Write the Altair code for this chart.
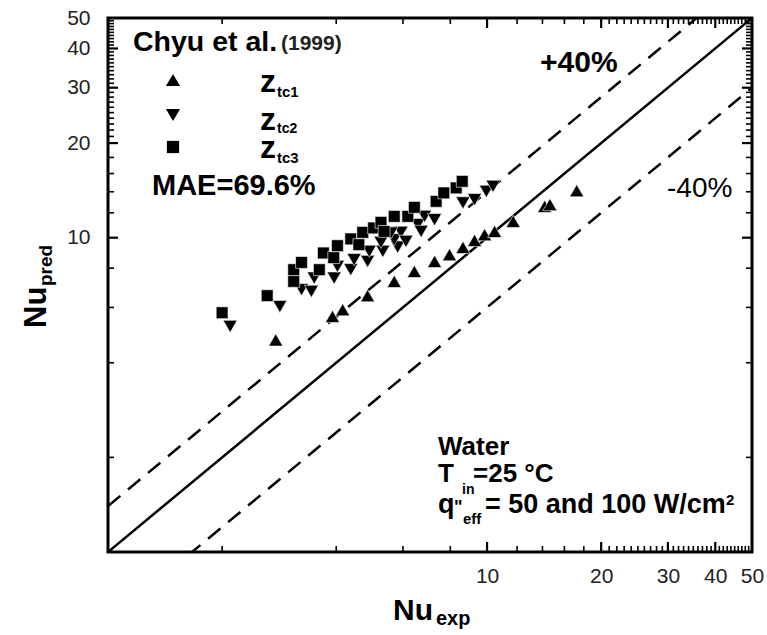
import altair as alt
import pandas as pd

FONT = "Liberation Sans"
W, H = 644, 534

# ---- data (Nu_exp, Nu_pred) ----
tc1_exp = [2.77, 3.91, 4.16, 4.84, 5.69, 6.43, 7.27, 7.96, 8.64, 9.27, 9.85, 10.47, 11.72, 14.19, 14.65, 17.24]
tc1_pred = [4.73, 5.62, 5.90, 6.54, 7.26, 7.81, 8.40, 8.83, 9.31, 9.80, 10.22, 10.47, 11.27, 12.58, 12.74, 14.11]

tc2_exp = [2.10, 2.84, 3.24, 3.44, 3.50, 3.95, 4.03, 4.37, 4.46, 4.84, 4.89, 5.31, 5.25, 5.81, 5.69, 5.93,
           6.11, 5.58, 6.57, 6.84, 7.27, 6.70, 8.64, 9.27, 9.96, 10.37]
tc2_pred = [5.22, 6.04, 6.83, 6.75, 7.44, 7.44, 8.10, 7.91, 8.51, 8.40, 9.05, 9.05, 9.66, 9.34, 9.85, 10.40,
            9.73, 10.35, 11.00, 11.69, 11.41, 10.47, 12.90, 13.21, 14.04, 14.57]

tc3_exp = [2.00, 2.63, 3.09, 3.09, 3.24, 3.61, 3.70, 3.94, 4.03, 4.37, 4.59, 4.70, 5.02, 5.25, 5.35, 5.69,
           6.18, 6.43, 7.34, 7.69, 8.29, 8.60]
tc3_pred = [5.77, 6.54, 7.26, 7.91, 8.34, 7.91, 8.94, 8.64, 9.43, 9.91, 9.50, 10.40, 10.74, 11.19, 10.47, 11.69,
            11.69, 12.49, 13.05, 13.88, 14.40, 15.11]

line_names = ["parity", "plus40", "minus40"]
line_ratios = [1.0, 1.4, 0.6]
line_x = [1, 50]

tick_labels = [10, 20, 30, 40, 50]
major_ticks = [10, 20, 30, 40]
minor_ticks = [2, 4, 6, 8, 12, 14, 16, 18] + [v for v in range(21, 50) if v not in (30, 40)]

xs = alt.Scale(type="log", domain=[1, 50], nice=False)
ys = alt.Scale(type="log", domain=[1, 50], nice=False)

axis_common = dict(values=tick_labels, format="d", title=None, grid=False, domain=False,
                   ticks=False, tickSize=0, labelFont=FONT, labelFontSize=21,
                   labelColor="#222", labelFlush=False, labelOverlap=False)

df1 = pd.DataFrame({"x": tc1_exp, "y": tc1_pred})
df2 = pd.DataFrame({"x": tc2_exp, "y": tc2_pred})
df3 = pd.DataFrame({"x": tc3_exp, "y": tc3_pred})

lines_df = pd.DataFrame([{"x": xv, "y": r * xv, "name": n}
                         for n, r in zip(line_names, line_ratios) for xv in line_x])

base_x = alt.X("x:Q", scale=xs, axis=alt.Axis(labelPadding=13, **axis_common))
base_y = alt.Y("y:Q", scale=ys, axis=alt.Axis(labelPadding=18, **axis_common))

solid = alt.Chart(lines_df).transform_filter("datum.name == 'parity'").mark_line(
    color="black", strokeWidth=2.5, clip=True).encode(x=base_x, y=base_y)
dashed = alt.Chart(lines_df).transform_filter("datum.name != 'parity'").mark_line(
    color="black", strokeWidth=2.5, strokeDash=[16, 10], clip=True).encode(
    x=alt.X("x:Q", scale=xs), y=alt.Y("y:Q", scale=ys), detail="name:N")


def pts(df, shape, size):
    return alt.Chart(df).mark_point(shape=shape, size=size, filled=True, fill="black", opacity=1,
                                    stroke="#ffffff", strokeWidth=0.6).encode(
        x=alt.X("x:Q", scale=xs), y=alt.Y("y:Q", scale=ys))


p1 = pts(df1, "triangle-up", 200)
p2 = pts(df2, "triangle-down", 200)
p3 = pts(df3, "square", 140)

# inward ticks on all four sides
maj_df = pd.DataFrame({"v": major_ticks})
min_df = pd.DataFrame({"v": minor_ticks})


def side_ticks(df, ln, sw):
    layers = []
    for x0, x1 in [(0, ln), (W, W - ln)]:
        layers.append(alt.Chart(df).mark_rule(color="black", strokeWidth=sw).encode(
            y=alt.Y("v:Q", scale=ys), x=alt.value(x0), x2=alt.value(x1)))
    for y0, y1 in [(H, H - ln), (0, ln)]:
        layers.append(alt.Chart(df).mark_rule(color="black", strokeWidth=sw).encode(
            x=alt.X("v:Q", scale=xs), y=alt.value(y0), y2=alt.value(y1)))
    return layers


tick_layers = side_ticks(maj_df, 10, 2.2) + side_ticks(min_df, 6, 1.6)


def txt(t, x, y, size, weight="bold", angle=0, align="left", color="black"):
    return alt.Chart(pd.DataFrame({"t": [t]})).mark_text(
        font=FONT, fontSize=size, fontWeight=weight, angle=angle, align=align,
        baseline="alphabetic", color=color).encode(text="t:N", x=alt.value(x), y=alt.value(y))


def marker(shape, x, y, size):
    return alt.Chart(pd.DataFrame({"a": [0]})).mark_point(
        shape=shape, size=size, filled=True, fill="black", opacity=1).encode(
        x=alt.value(x), y=alt.value(y))


annos = [
    txt("Chyu et al.", 25, 33, 28.5),
    txt("(1999)", 173, 32, 21, color="#222"),
    marker("triangle-up", 65, 62, 200),
    marker("triangle-down", 65, 97, 200),
    marker("square", 65, 129, 150),
    txt("z", 152, 74, 32), txt("tc1", 169, 79, 15),
    txt("z", 152, 112, 32), txt("tc2", 169, 115, 14),
    txt("z", 152, 140, 32), txt("tc3", 169, 145, 15),
    txt("MAE=69.6%", 44, 177, 29),
    txt("+40%", 432, 54, 30),
    txt("-40%", 559, 179, 28, weight="normal"),
    txt("Water", 330, 437, 26),
    txt("T", 330, 464, 26), txt("in", 354, 476, 14), txt("=25 °C", 365, 464, 26),
    txt("q", 330, 495, 27), txt("\"", 346, 495, 18), txt("eff", 355, 506, 15),
    txt("= 50 and 100 W/cm", 377, 495, 27),
    txt("2", 618, 487, 15),
    txt("Nu", 285, 602, 30), txt("exp", 328, 607, 20),
    txt("Nu", -62, 310, 31, angle=270), txt("pred", -56, 268, 19, angle=270),
]

chart = alt.layer(solid, dashed, *tick_layers, p1, p2, p3, *annos).properties(
    width=W, height=H,
    background="white",
    autosize=alt.AutoSizeParams(type="none"),
    padding={"left": 108, "top": 18, "right": 15, "bottom": 83},
).configure_view(stroke="black", strokeWidth=3)

chart.save("out.html", embed_options={"renderer": "svg", "actions": False})
